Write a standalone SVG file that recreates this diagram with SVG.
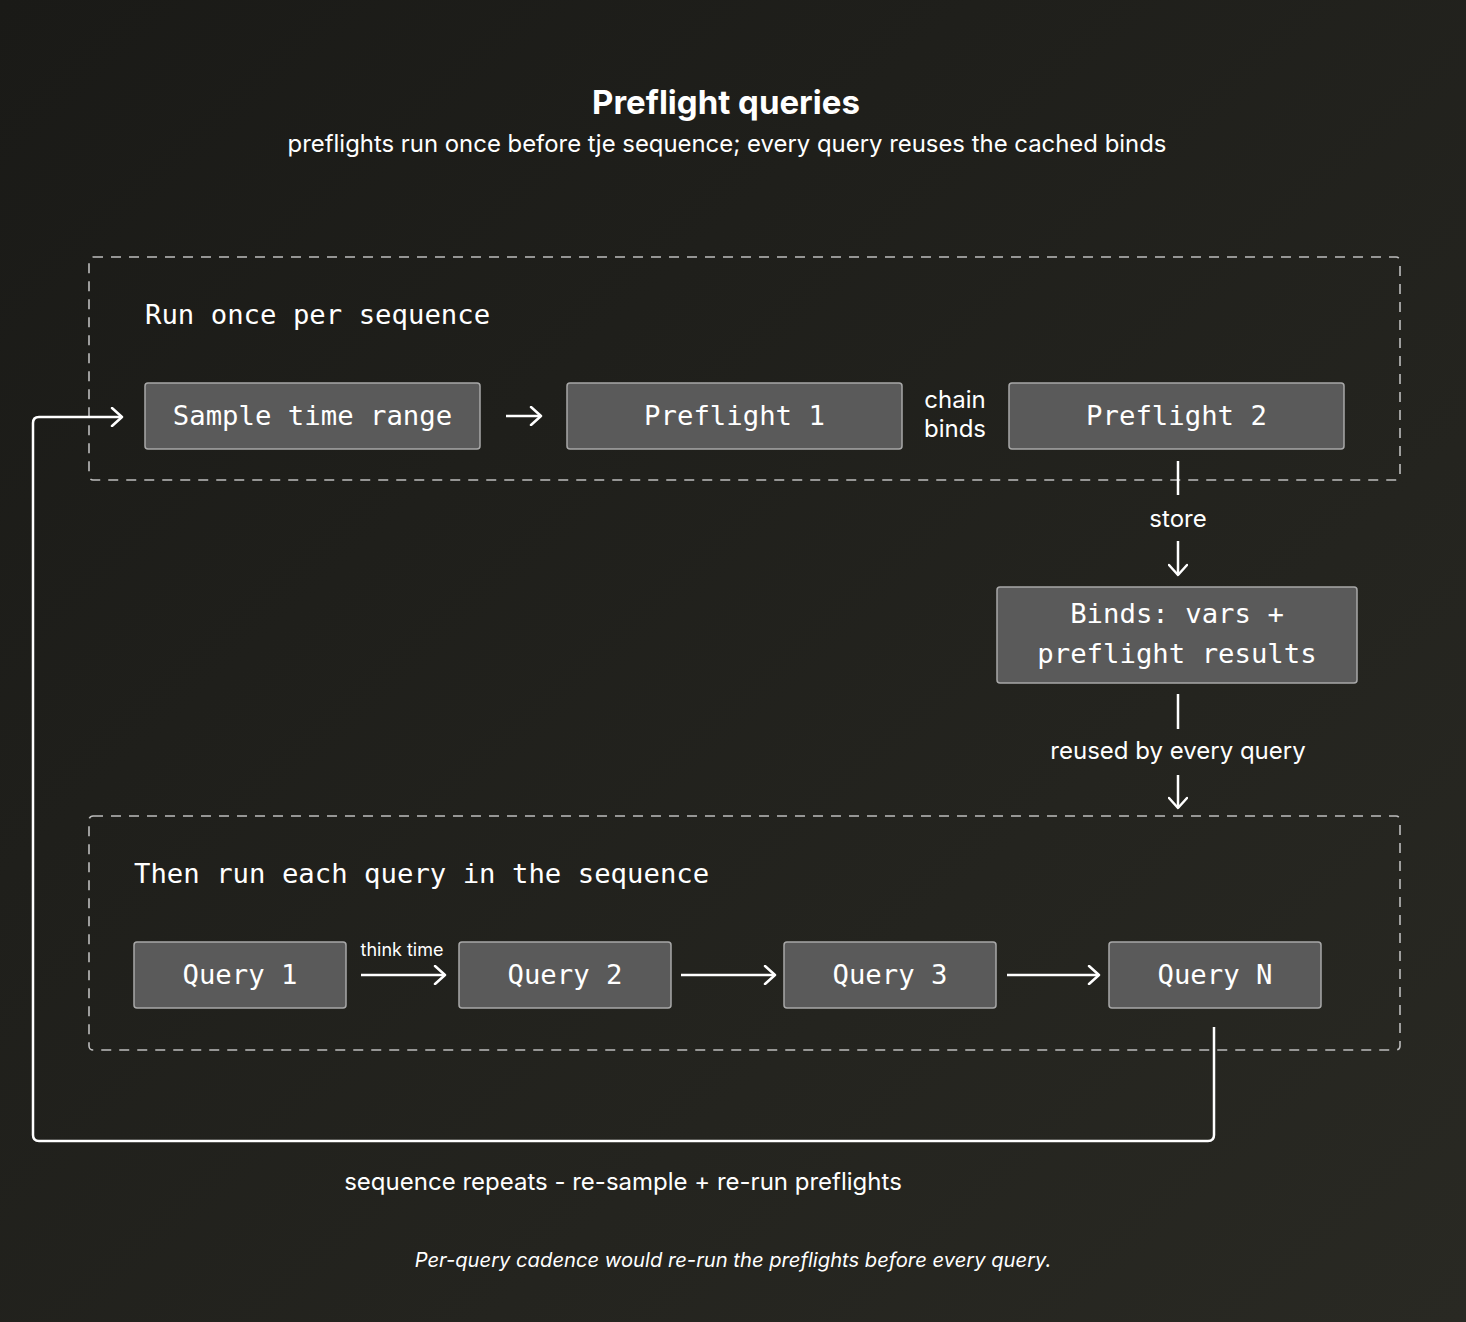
<svg xmlns="http://www.w3.org/2000/svg" width="1466" height="1322" viewBox="0 0 1466 1322">
<defs>
<linearGradient id="bg" x1="0" y1="0" x2="1" y2="1">
<stop offset="0" stop-color="#1a1a17"/>
<stop offset="1" stop-color="#292923"/>
</linearGradient>
<marker id="ah" viewBox="0 0 20 20" refX="18" refY="10" markerWidth="20" markerHeight="20" markerUnits="userSpaceOnUse" orient="auto">
<path d="M8 1 L18 10 L8 19" fill="none" stroke="#ffffff" stroke-width="2.5" stroke-linecap="round" stroke-linejoin="round"/>
</marker>
</defs>
<style>
.box{fill:#5a5a5a;stroke:#a8a8a8;stroke-width:1.5}
.grp{fill:none;stroke:#bdbdbd;stroke-width:1.6;stroke-dasharray:10 8}
.mono{font-family:"DejaVu Sans Mono","Liberation Mono",monospace;font-size:27.3px;fill:#ffffff}
.ntext{text-anchor:middle}
.lbl{font-family:Inter,"Liberation Sans",sans-serif;fill:#ffffff}
.conn{fill:none;stroke:#ffffff;stroke-width:2.5}
</style>
<rect width="1466" height="1322" fill="url(#bg)"/>
<text x="726" y="114" text-anchor="middle" class="lbl" font-size="33" font-weight="700">Preflight queries</text>
<text x="727" y="152" text-anchor="middle" class="lbl" font-size="23.9">preflights run once before tje sequence; every query reuses the cached binds</text>

<g id="group-once">
<rect class="grp" x="89" y="257" width="1311" height="223" rx="4"/>
<text class="mono" x="145" y="324">Run once per sequence</text>
</g>
<g id="group-each">
<rect class="grp" x="89" y="816" width="1311" height="234" rx="4"/>
<text class="mono" x="134" y="883">Then run each query in the sequence</text>
</g>

<g id="node-sample"><rect class="box" x="145" y="383" width="335" height="66" rx="3"/><text class="mono ntext" x="312.5" y="425">Sample time range</text></g>
<g id="node-preflight1"><rect class="box" x="567" y="383" width="335" height="66" rx="3"/><text class="mono ntext" x="734.5" y="425">Preflight 1</text></g>
<g id="node-preflight2"><rect class="box" x="1009" y="383" width="335" height="66" rx="3"/><text class="mono ntext" x="1176.5" y="425">Preflight 2</text></g>
<g id="node-binds"><rect class="box" x="997" y="587" width="360" height="96" rx="3"/><text class="mono ntext" x="1177" y="623">Binds: vars +</text><text class="mono ntext" x="1177" y="663">preflight results</text></g>
<g id="node-q1"><rect class="box" x="134" y="942" width="212" height="66" rx="3"/><text class="mono ntext" x="240" y="984">Query 1</text></g>
<g id="node-q2"><rect class="box" x="459" y="942" width="212" height="66" rx="3"/><text class="mono ntext" x="565" y="984">Query 2</text></g>
<g id="node-q3"><rect class="box" x="784" y="942" width="212" height="66" rx="3"/><text class="mono ntext" x="890" y="984">Query 3</text></g>
<g id="node-qn"><rect class="box" x="1109" y="942" width="212" height="66" rx="3"/><text class="mono ntext" x="1215" y="984">Query N</text></g>

<g id="connectors">
<path class="conn" d="M506 416 H541" marker-end="url(#ah)"/>
<text class="lbl" x="955" y="408" font-size="24" text-anchor="middle">chain</text>
<text class="lbl" x="955" y="437" font-size="24" text-anchor="middle">binds</text>
<path class="conn" d="M1178 461 V495"/>
<text class="lbl" x="1178" y="527" font-size="24" text-anchor="middle">store</text>
<path class="conn" d="M1178 541 V575" marker-end="url(#ah)"/>
<path class="conn" d="M1178 694 V729"/>
<text class="lbl" x="1178" y="759" font-size="24" text-anchor="middle">reused by every query</text>
<path class="conn" d="M1178 775 V808" marker-end="url(#ah)"/>
<path class="conn" d="M361 975 H445" marker-end="url(#ah)"/>
<text class="lbl" x="402" y="956" font-size="18" text-anchor="middle">think time</text>
<path class="conn" d="M681 975 H775" marker-end="url(#ah)"/>
<path class="conn" d="M1007 975 H1099" marker-end="url(#ah)"/>
<path class="conn" d="M1214 1027 V1135 Q1214 1141 1208 1141 H39 Q33 1141 33 1135 V423 Q33 417 39 417 H122" marker-end="url(#ah)"/>
<text class="lbl" x="623" y="1190" font-size="24" text-anchor="middle">sequence repeats - re-sample + re-run preflights</text>
</g>
<text class="lbl" x="733" y="1267" font-size="20.2" font-style="italic" text-anchor="middle">Per-query cadence would re-run the preflights before every query.</text>
</svg>
